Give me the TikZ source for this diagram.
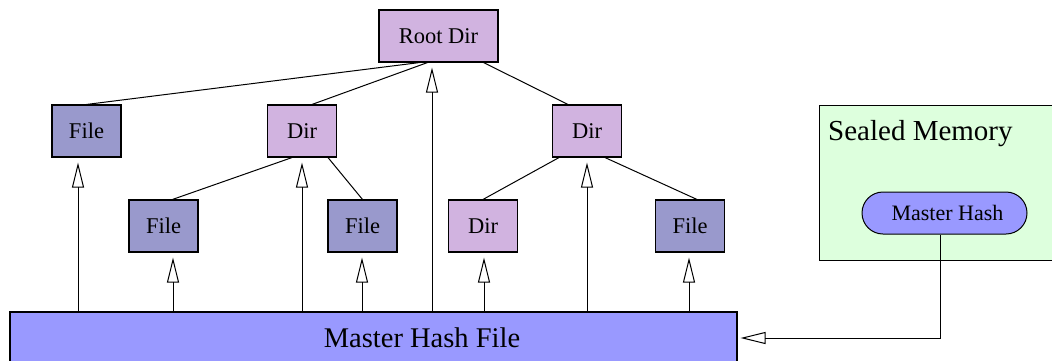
\documentclass[tikz,border=0pt]{standalone}
\usepackage{fontspec}
\setmainfont{Liberation Serif}
\usetikzlibrary{arrows.meta}
\definecolor{filefill}{HTML}{9999CC}
\definecolor{dirfill}{HTML}{D1B3E0}
\definecolor{hashfill}{HTML}{9999FF}
\definecolor{sealfill}{HTML}{DDFFDD}
\tikzset{
  box/.style={draw=black, line width=1.1pt, inner sep=0pt, minimum height=52pt,
              font=\fontsize{22.5}{25}\selectfont},
  filebox/.style={box, fill=filefill, minimum width=69pt},
  dirbox/.style={box, fill=dirfill, minimum width=69pt},
  link/.style={line width=1pt},
  hasharrow/.style={line width=1pt, -{Triangle[open, length=25pt, width=12pt]}},
}
\begin{document}
\begin{tikzpicture}[x=1pt, y=-1pt]
\useasboundingbox (0,0) rectangle (1052,360);

% sealed memory region
\begin{scope}
\clip (0,0) rectangle (1052,360);
\node[draw, line width=1pt, fill=sealfill, inner sep=0pt, minimum width=245pt, minimum height=155pt]
  (sealed) at (941.5,182.5) {};
\node[anchor=base west, inner sep=0pt, font=\fontsize{29}{32}\selectfont]
  (sealedlabel) at (828,140) {Sealed Memory};
\node[draw, line width=1pt, fill=hashfill, rounded corners=21pt, inner sep=0pt,
      minimum width=165pt, minimum height=42pt, font=\fontsize{22}{24}\selectfont]
  (mh) at (944.5,213) {\hspace*{6pt}Master Hash};

% master hash file
\node[draw, line width=1.1pt, fill=hashfill, inner sep=0pt, minimum width=727pt, minimum height=56pt]
  (mhf) at (373.5,340) {};
\node[font=\fontsize{28.5}{32}\selectfont, inner sep=0pt] (mhflabel) at (422,338) {Master Hash File};
\end{scope}

% directory tree
\node[box, fill=dirfill, minimum width=119pt] (root) at (438.5,36) {Root Dir};
\node[filebox] (f1) at (86.5,131) {File};
\node[dirbox]  (d1) at (302,131) {Dir};
\node[dirbox]  (d2) at (587,131) {Dir};
\node[filebox] (f2) at (163.5,226) {File};
\node[filebox] (f3) at (362.5,226) {File};
\node[dirbox]  (d3) at (483,226) {Dir};
\node[filebox] (f4) at (690,226) {File};

\draw[link] ([xshift=-19pt]root.south) -- (f1.north);
\draw[link] ([xshift=-11pt]root.south) -- ([xshift=10pt]d1.north);
\draw[link] ([xshift=45pt]root.south) -- ([xshift=-19pt]d2.north);
\draw[link] ([xshift=-10pt]d1.south) -- ([xshift=9pt]f2.north);
\draw[link] ([xshift=26pt]d1.south) -- (f3.north);
\draw[link] ([xshift=-28pt]d2.south) -- (d3.north);
\draw[link] ([xshift=18pt]d2.south) -- ([xshift=7pt]f4.north);

% hashes held in the master hash file
\draw[hasharrow] (mhf.north -| 78,0)  -- ([yshift=-5pt]f1.south -| 78,0);
\draw[hasharrow] (mhf.north -| 173,0) -- ([yshift=-5pt]f2.south -| 173,0);
\draw[hasharrow] (mhf.north -| 302,0) -- ([yshift=-5pt]d1.south -| 302,0);
\draw[hasharrow] (mhf.north -| 362,0) -- ([yshift=-5pt]f3.south -| 362,0);
\draw[hasharrow] (mhf.north -| 432,0) -- ([yshift=-5pt]root.south -| 432,0);
\draw[hasharrow] (mhf.north -| 484,0) -- ([yshift=-5pt]d3.south -| 484,0);
\draw[hasharrow] (mhf.north -| 587,0) -- ([yshift=-5pt]d2.south -| 587,0);
\draw[hasharrow] (mhf.north -| 689,0) -- ([yshift=-5pt]f4.south -| 689,0);

% master hash protects the master hash file
\draw[hasharrow] (mh.south -| 940,0) |- ([xshift=3pt]mhf.east |- 0,338);
\end{tikzpicture}
\end{document}
